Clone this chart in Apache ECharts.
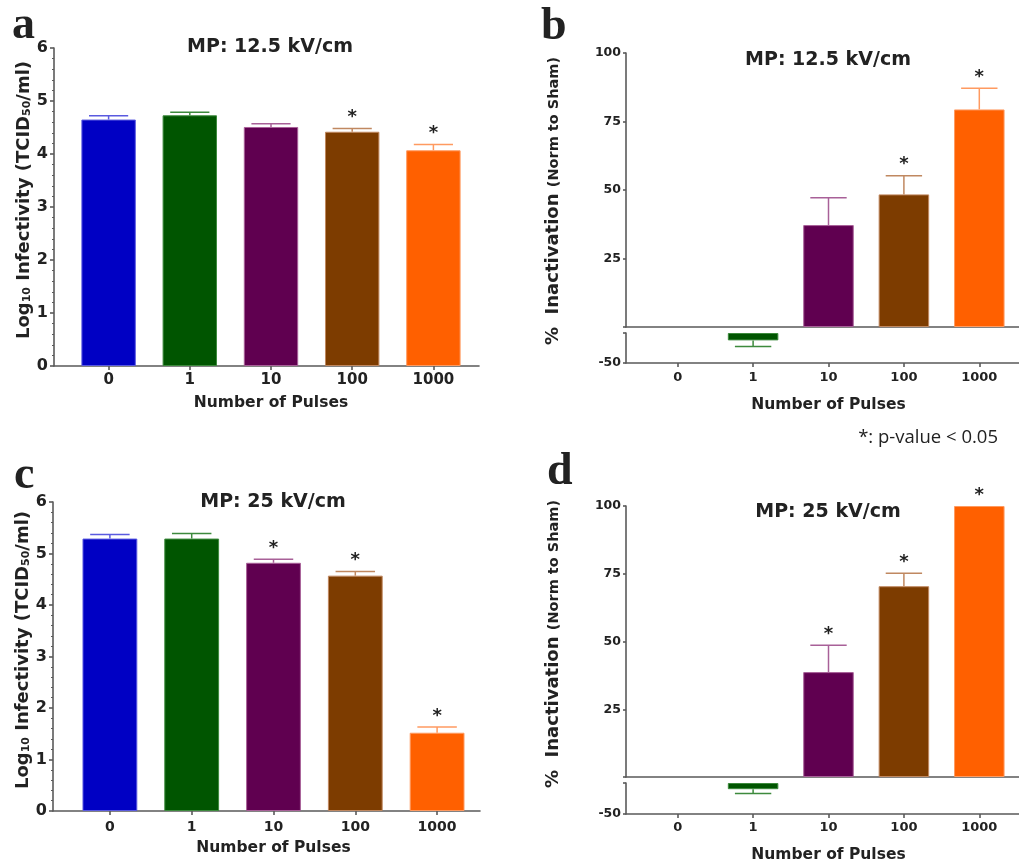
<!DOCTYPE html>
<html><head><meta charset="utf-8">
<script src="https://cdn.jsdelivr.net/npm/echarts@6/dist/echarts.min.js"></script>
<style>html,body{margin:0;padding:0;background:#fff}#c{width:1019px;height:864px}</style>
</head><body><div id="c"></div>
<script>
// ---------- data ----------
const categories = ['0', '1', '10', '100', '1000'];
const barColors = ['#0000c4', '#005500', '#600050', '#7d3c00', '#ff6000'];
const errColors = ['#5a5ae0', '#3d8a3d', '#a86098', '#c08860', '#ff9a60'];

const infTicks = [0, 1, 2, 3, 4, 5, 6];
const pctTicksUpper = [0, 25, 50, 75, 100];
const pctTicksLower = [-50, 0];
const pctLabelsShown = [25, 50, 75, 100, -50];

// panel a: MP 12.5 kV/cm, log10 infectivity
const infA = [4.65, 4.73, 4.51, 4.42, 4.07];
const infAErr = [0.07, 0.06, 0.06, 0.06, 0.11];
const infASig = [0, 0, 0, 1, 1];
// panel b: MP 12.5 kV/cm, % inactivation
const pctB = [0, -12.3, 37.2, 48.4, 79.4];
const pctBErr = [0, 10, 10, 6.8, 7.7];
const pctBSig = [0, 0, 0, 1, 1];
// panel c: MP 25 kV/cm, log10 infectivity
const infC = [5.29, 5.29, 4.82, 4.57, 1.52];
const infCErr = [0.08, 0.10, 0.07, 0.08, 0.11];
const infCSig = [0, 0, 1, 1, 1];
// panel d: MP 25 kV/cm, % inactivation
const pctD = [0, -10, 38.7, 70.4, 100];
const pctDErr = [0, 7, 9.9, 4.8, 0];
const pctDSig = [0, 0, 1, 1, 1];

// ---------- styling helpers ----------
const FF = '"DejaVu Sans", sans-serif';
const axisCol = '#5a5a5a';
const txtCol = '#222222';
const lineStyle = { color: axisCol, width: 1.6 };

const grids = [], xAxes = [], yAxes = [], series = [];

function catX(g, o) {
  return {
    type: 'category', gridIndex: g, data: categories, position: 'bottom',
    axisLine: { show: false, onZero: false },
    axisTick: { show: o.ticks !== false, alignWithLabel: true, length: 4, lineStyle },
    axisLabel: { show: o.labels !== false, margin: o.margin || 6, fontFamily: FF, fontWeight: 'bold', fontSize: o.size || 14, color: txtCol },
    name: o.name ? 'Number of Pulses' : '', nameLocation: 'middle', nameGap: o.nameGap || 30,
    nameTextStyle: { fontFamily: FF, fontWeight: 'bold', fontSize: 15.5, color: txtCol },
    splitLine: { show: false }
  };
}
function valY(g, o) {
  const ticks = o.ticks;
  return {
    type: 'value', gridIndex: g, min: ticks[0], max: ticks[ticks.length - 1], interval: ticks[1] - ticks[0],
    offset: o.offset,
    axisLine: { show: true, onZero: false, lineStyle },
    axisTick: { show: true, length: o.tickLen || 4, lineStyle },
    minorTick: o.minor ? { show: true, splitNumber: 5, length: 2, lineStyle: { color: axisCol, width: 1 } } : { show: false },
    axisLabel: {
      margin: o.margin, fontFamily: FF, fontWeight: 'bold', fontSize: o.size, color: txtCol,
      formatter: o.shown ? (v => o.shown.includes(v) ? String(v) : '') : (v => String(v))
    },
    splitLine: { show: false },
    name: o.name || '', nameLocation: 'middle', nameRotate: 90, nameGap: o.nameGap || 20,
    nameTextStyle: o.nameStyle || {}
  };
}
function frame(box) {
  grids.push(box);
  const g = grids.length - 1;
  xAxes.push({ type: 'value', gridIndex: g, min: 0, max: 1, position: 'bottom', axisLine: { show: true, onZero: false, lineStyle }, axisTick: { show: false }, axisLabel: { show: false }, splitLine: { show: false } });
  yAxes.push({ type: 'value', gridIndex: g, min: 0, max: 1, show: false });
}
function bars(g, vals, keep) {
  series.push({
    type: 'bar', xAxisIndex: g, yAxisIndex: g, barCategoryGap: '33%', z: 2,
    data: vals.map((v, i) => keep(v) ? { value: v, itemStyle: { color: barColors[i], borderColor: errColors[i], borderWidth: 1 } } : '-')
  });
}
function errs(g, vals, es, sigs, keep) {
  const data = [];
  vals.forEach((v, i) => { if (keep(v)) data.push([i, v, es[i], sigs[i]]); });
  series.push({
    type: 'custom', xAxisIndex: g, yAxisIndex: g, data, encode: { x: 0, y: 1 }, z: 3, clip: false,
    renderItem: (params, api) => {
      const i = api.value(0), v = api.value(1), e = api.value(2), s = api.value(3);
      const dir = v < 0 ? -1 : 1;
      const base = api.coord([i, v]);
      const tip = api.coord([i, v + dir * e]);
      const half = api.size([1, 0])[0] * 0.67 * 0.36;
      const col = errColors[i];
      const ch = [];
      if (e > 0) {
        ch.push({ type: 'line', shape: { x1: base[0], y1: base[1], x2: tip[0], y2: tip[1] }, style: { stroke: col, lineWidth: 1.5 } });
        ch.push({ type: 'line', shape: { x1: tip[0] - half, y1: tip[1], x2: tip[0] + half, y2: tip[1] }, style: { stroke: col, lineWidth: 1.5 } });
      }
      if (s) ch.push({ type: 'text', x: tip[0], y: tip[1] - 11, style: { text: '*', font: 'bold 18px ' + FF, fill: txtCol, align: 'center', verticalAlign: 'middle' } });
      return { type: 'group', children: ch };
    }
  });
}
const infName = '{m|Log}{s|10}{m| Infectivity (TCID}{s|50}{m|/ml)}';
const infRich = {
  m: { fontFamily: FF, fontWeight: 'bold', fontSize: 18, color: txtCol },
  s: { fontFamily: FF, fontWeight: 'bold', fontSize: 11, color: txtCol, verticalAlign: 'bottom' }
};
const pctName = '{m|%  Inactivation }{s|(Norm to Sham)}';
const pctRich = {
  m: { fontFamily: FF, fontWeight: 'bold', fontSize: 18, color: txtCol },
  s: { fontFamily: FF, fontWeight: 'bold', fontSize: 14.5, color: txtCol, verticalAlign: 'bottom' }
};
const all = v => true, pos = v => v > 0, neg = v => v < 0;

// ---------- panel a ----------
grids.push({ left: 68, top: 48, width: 406, height: 318 });
let g = grids.length - 1;
xAxes.push(catX(g, { size: 15, margin: 6.5, name: true, nameGap: 29 }));
yAxes.push(valY(g, { ticks: infTicks, offset: 14, minor: true, margin: 6, size: 16, name: infName, nameGap: 19, nameStyle: { rich: infRich, padding: [0, 0, 0, 14] } }));
bars(g, infA, all); errs(g, infA, infAErr, infASig, all);
frame({ left: 54, top: 48, width: 425, height: 318 });

// ---------- panel b ----------
grids.push({ left: 640, top: 53, width: 377, height: 274 });
g = grids.length - 1;
xAxes.push(catX(g, { ticks: false, labels: false }));
yAxes.push(valY(g, { ticks: pctTicksUpper, offset: 14, margin: 5, size: 12.5, tickLen: 3, shown: pctLabelsShown, name: pctName, nameGap: 64, nameStyle: { rich: pctRich, padding: [0, 22, 0, 0] } }));
bars(g, pctB, pos); errs(g, pctB, pctBErr, pctBSig, v => v >= 0);
grids.push({ left: 640, top: 333, width: 377, height: 30 });
g = grids.length - 1;
xAxes.push(catX(g, { size: 13, margin: 8, name: true, nameGap: 34 }));
yAxes.push(valY(g, { ticks: pctTicksLower, offset: 14, margin: 5, size: 12.5, tickLen: 3, shown: pctLabelsShown }));
bars(g, pctB, neg); errs(g, pctB, pctBErr, pctBSig, neg);
frame({ left: 626, top: 53, width: 393, height: 274 });
frame({ left: 626, top: 333, width: 393, height: 30 });

// ---------- panel c ----------
grids.push({ left: 69, top: 502, width: 409, height: 309 });
g = grids.length - 1;
xAxes.push(catX(g, { size: 14, margin: 9, name: true, nameGap: 29 }));
yAxes.push(valY(g, { ticks: infTicks, offset: 16, minor: true, margin: 6, size: 16, name: infName, nameGap: 21, nameStyle: { rich: infRich, padding: [0, 0, 0, 13] } }));
bars(g, infC, all); errs(g, infC, infCErr, infCSig, all);
frame({ left: 53, top: 502, width: 427, height: 309 });

// ---------- panel d ----------
grids.push({ left: 640, top: 506, width: 377, height: 271 });
g = grids.length - 1;
xAxes.push(catX(g, { ticks: false, labels: false }));
yAxes.push(valY(g, { ticks: pctTicksUpper, offset: 14, margin: 5, size: 12.5, tickLen: 3, shown: pctLabelsShown, name: pctName, nameGap: 64, nameStyle: { rich: pctRich, padding: [0, 5, 0, 0] } }));
bars(g, pctD, pos); errs(g, pctD, pctDErr, pctDSig, v => v >= 0);
grids.push({ left: 640, top: 783, width: 377, height: 31 });
g = grids.length - 1;
xAxes.push(catX(g, { size: 13, margin: 7, name: true, nameGap: 33 }));
yAxes.push(valY(g, { ticks: pctTicksLower, offset: 14, margin: 5, size: 12.5, tickLen: 3, shown: pctLabelsShown }));
bars(g, pctD, neg); errs(g, pctD, pctDErr, pctDSig, neg);
frame({ left: 626, top: 506, width: 393, height: 271 });
frame({ left: 626, top: 783, width: 393, height: 31 });

// ---------- texts ----------
function txt(x, y, text, font, align) {
  return { type: 'text', x, y, style: { text, font, fill: txtCol, align: align || 'center', verticalAlign: 'middle' } };
}
const titleFont = 'bold 19px ' + FF;
const letterFont = 'bold 46px "Liberation Serif", serif';
const graphic = [
  txt(270, 47, 'MP: 12.5 kV/cm', titleFont),
  txt(828, 60, 'MP: 12.5 kV/cm', titleFont),
  txt(273, 502, 'MP: 25 kV/cm', titleFont),
  txt(828, 512, 'MP: 25 kV/cm', titleFont),
  txt(12, 26, 'a', letterFont, 'left'),
  txt(541, 27, 'b', letterFont, 'left'),
  txt(14, 476, 'c', letterFont, 'left'),
  txt(547, 472, 'd', letterFont, 'left'),
  txt(998, 438, '*: p-value < 0.05', '18.5px "Open Sans", sans-serif', 'right')
];

const chart = echarts.init(document.getElementById('c'), null, { renderer: 'canvas' });
chart.setOption({
  animation: false,
  backgroundColor: '#ffffff',
  grid: grids, xAxis: xAxes, yAxis: yAxes, series, graphic
});
</script></body></html>
